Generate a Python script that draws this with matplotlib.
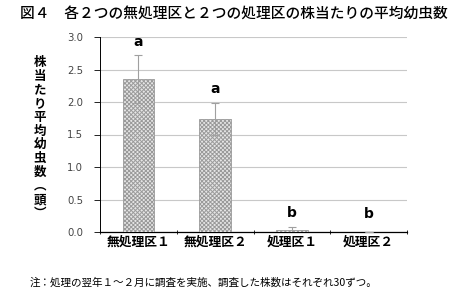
import matplotlib
matplotlib.use("Agg")
import matplotlib.pyplot as plt
import numpy as np

plt.rcParams['font.family'] = ['Noto Sans CJK JP', 'DejaVu Sans']
plt.rcParams['hatch.linewidth'] = 0.7
plt.rcParams['hatch.color'] = '#7a7a7a'

categories = ['無処理区１', '無処理区２', '処理区１', '処理区２']
means = [2.35, 1.74, 0.03, 0.0]
errors = [0.37, 0.25, 0.05, 0.0]
letters = ['a', 'a', 'b', 'b']
yticks = [0.0, 0.5, 1.0, 1.5, 2.0, 2.5, 3.0]

fig = plt.figure(figsize=(4.66, 3.05), dpi=100)
ax = fig.add_axes([100/466, 1-232/305, 307/466, 195/305])

x = np.arange(len(categories))
ax.bar(x, means, width=0.41, color='#e6e6e6', edgecolor='#9a9a9a',
       hatch='xxxxxxxx', linewidth=0.6, zorder=3)
ax.errorbar(x, means, yerr=errors, fmt='none', ecolor='#a0a0a0',
            elinewidth=0.8, capsize=3, capthick=0.8, zorder=4)
for xi, m, e, l in zip(x, means, errors, letters):
    ax.text(xi, max(m + e + 0.1, 0.17), l, ha='center', va='bottom',
            fontsize=10, fontweight='bold', family='DejaVu Sans')

ax.set_xlim(-0.5, 3.5)
ax.set_ylim(0, 3.0)
ax.set_yticks(yticks)
ax.set_yticklabels([f'{v:.1f}' for v in yticks], fontsize=7.3,
                   color='#444444', family='DejaVu Sans')
ax.yaxis.grid(True, color='#c8c8c8', linewidth=0.8, zorder=0)
ax.set_axisbelow(True)
ax.set_xticks(x)
ax.set_xticklabels(categories, fontsize=9.2, fontweight='bold')
ax.tick_params(axis='x', length=0, pad=3)
ax.set_xticks(np.arange(-0.5, 4.0, 1.0), minor=True)
ax.tick_params(axis='x', which='minor', length=3, direction='inout', width=0.6)
ax.tick_params(axis='y', length=4, width=0.6, direction='out', pad=8)
for s in ['top', 'right']:
    ax.spines[s].set_visible(False)
ax.spines['left'].set_linewidth(0.7)
ax.spines['bottom'].set_linewidth(0.9)

ylabel = '株当たり平均幼虫数︵頭︶'
fig.text(40/466, 1-138/305, '\n'.join(ylabel), ha='center', va='center',
         fontsize=9, fontweight='bold', linespacing=1.07)

fig.text(20/466, 1-14/305, '図４　各２つの無処理区と２つの処理区の株当たりの平均幼虫数',
         ha='left', va='center', fontsize=10.6, fontweight='medium')
fig.text(30/466, 1-283/305, '注：処理の翌年１～２月に調査を実施、調査した株数はそれぞれ30ずつ。',
         ha='left', va='center', fontsize=7.6)

fig.savefig('out.png', dpi=100)
